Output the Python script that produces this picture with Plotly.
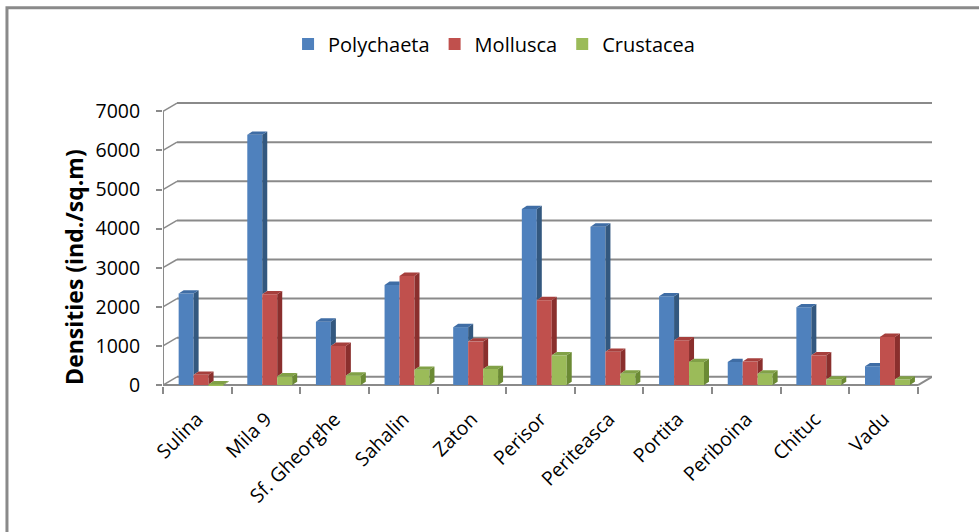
import plotly.graph_objects as go

# Benthic densities per station (ind./sq.m)
stations = ["Sulina", "Mila 9", "Sf. Gheorghe", "Sahalin", "Zaton", "Perisor",
            "Periteasca", "Portita", "Periboina", "Chituc", "Vadu"]
polychaeta = [2340, 6400, 1620, 2560, 1480, 4500, 4050, 2270, 590, 1990, 480]
mollusca = [260, 2320, 1000, 2790, 1110, 2170, 850, 1140, 600, 760, 1230]
crustacea = [15, 220, 240, 390, 410, 760, 290, 590, 290, 140, 140]
y_ticks = [0, 1000, 2000, 3000, 4000, 5000, 6000, 7000]

series = [
    ("Polychaeta", polychaeta, "#4F81BD", "#33587F", "#3F6DA5"),
    ("Mollusca", mollusca, "#C0504D", "#8A2F2D", "#A63F3C"),
    ("Crustacea", crustacea, "#9BBB59", "#6B8A34", "#81A147"),
]

FONT = "Open Sans"
GRID = "#8A8A8A"

# pseudo-3D geometry (axis units)
WALL_DX, WALL_DY = 0.204, 210      # depth of floor / back wall
BAR_W = 0.218                      # width of a bar front face
BAR_OFF = [-0.272, -0.054, 0.164]  # left edge of each series' bar
BAR_DX, BAR_DY = 0.073, 85         # depth of a bar
n = len(stations)
x_pos = list(range(n))

fig = go.Figure()
for k, (name, vals, front, side, top) in enumerate(series):
    fig.add_trace(go.Bar(
        x=x_pos, y=vals, name=name, marker=dict(color=front, line=dict(width=0)),
        width=BAR_W, offset=BAR_OFF[k], hoverinfo="x+y",
    ))

shapes = []
# back wall gridlines and the short connectors from the front axis
x_left, x_right = -0.5, n - 0.5
for v in y_ticks:
    shapes.append(dict(type="line", xref="x", yref="y", layer="below",
                       x0=x_left + WALL_DX, x1=x_right + WALL_DX, y0=v + WALL_DY, y1=v + WALL_DY,
                       line=dict(color=GRID, width=2)))
    shapes.append(dict(type="line", xref="x", yref="y", layer="below",
                       x0=x_left, x1=x_left + WALL_DX, y0=v, y1=v + WALL_DY,
                       line=dict(color=GRID, width=1.5)))
# front axis line, floor front edge and right floor edge
shapes.append(dict(type="line", xref="x", yref="y", layer="below",
                   x0=x_left, x1=x_left, y0=0, y1=y_ticks[-1], line=dict(color=GRID, width=2)))
shapes.append(dict(type="line", xref="x", yref="y", layer="below",
                   x0=x_left, x1=x_right, y0=0, y1=0, line=dict(color=GRID, width=2)))
shapes.append(dict(type="line", xref="x", yref="y", layer="below",
                   x0=x_right, x1=x_right + WALL_DX, y0=0, y1=WALL_DY, line=dict(color=GRID, width=2)))

# side and top faces of each bar, hidden where the neighbouring bar covers them
for k, (name, vals, front, side, top) in enumerate(series):
    for i, v in enumerate(vals):
        xl = i + BAR_OFF[k]
        xr = xl + BAR_W
        nxt = series[k + 1][1][i] if k + 1 < len(series) else 0
        if v > nxt:
            base = nxt
            shapes.append(dict(
                type="path", xref="x", yref="y", layer="above", fillcolor=side,
                line=dict(width=0),
                path=f"M {xr},{base} L {xr + BAR_DX},{base + BAR_DY} "
                     f"L {xr + BAR_DX},{v + BAR_DY} L {xr},{v} Z"))
            x_end = xr + BAR_DX
        else:
            x_end = xr
        shapes.append(dict(
            type="path", xref="x", yref="y", layer="above", fillcolor=top,
            line=dict(width=0),
            path=f"M {xl},{v} L {xl + BAR_DX},{v + BAR_DY} "
                 f"L {x_end},{v + BAR_DY} L {min(xr, x_end)},{v} Z"))

# chart frame
shapes.append(dict(type="rect", xref="paper", yref="paper", layer="above",
                   x0=-0.2029, x1=1.3, y0=-0.8, y1=1.3270,
                   line=dict(color="#8A8A8A", width=3), fillcolor="rgba(0,0,0,0)"))

fig.update_layout(
    width=979, height=532,
    margin=dict(l=163, r=47, t=101, b=146, autoexpand=False),
    paper_bgcolor="white", plot_bgcolor="white",
    barmode="overlay",
    font=dict(family=FONT, size=18, color="#000000"),
    showlegend=True,
    legend=dict(orientation="h", x=0.4305, xanchor="center", y=1.200, yanchor="middle",
                font=dict(family=FONT, size=20, color="#000000"),
                bgcolor="rgba(0,0,0,0)", itemwidth=30, traceorder="normal"),
    xaxis=dict(range=[x_left, x_right + WALL_DX], tickmode="array", tickvals=x_pos,
               ticktext=stations, tickangle=-45, ticks="", showgrid=False,
               zeroline=False, showline=False, automargin=False,
               ticklabelstandoff=17,
               tickfont=dict(family=FONT, size=19.5, color="#000000"),
               minor=dict(tickmode="array", tickvals=[x_left + j for j in range(n + 1)],
                          ticks="outside", ticklen=7, tickwidth=2, tickcolor=GRID,
                          showgrid=False)),
    yaxis=dict(range=[-25, 7264], tickmode="array", tickvals=y_ticks,
               ticks="outside", ticklen=6, tickwidth=2, tickcolor=GRID,
               showgrid=False, zeroline=False, showline=False, automargin=False,
               ticklabelstandoff=12,
               tickfont=dict(family=FONT, size=19.5, color="#000000")),
    shapes=shapes,
    annotations=[dict(text="<b>Densities (ind./sq.m)</b>", xref="paper", yref="paper",
                      x=-0.1157, y=0.418, textangle=-90, showarrow=False,
                      xanchor="center", yanchor="middle",
                      font=dict(family=FONT, size=23, color="#000000"))],
)

fig.write_html("out.html")
